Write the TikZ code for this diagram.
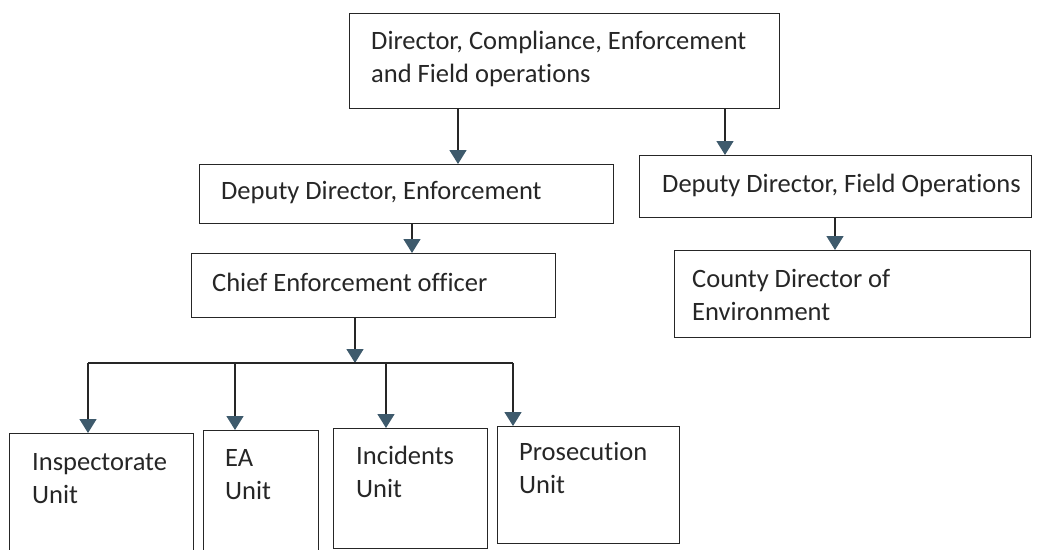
\documentclass[tikz,border=0pt]{standalone}
\usepackage{fontspec}
\setmainfont[Ligatures={NoCommon}]{Carlito}
\usetikzlibrary{arrows.meta}
\definecolor{tipc}{HTML}{3E5A6C}
\definecolor{linec}{HTML}{262626}
\newcommand{\orgbox}[5]{\node[box,anchor=north west,minimum width={(#4)-(#2)},minimum height={(#5)-(#3)}] (#1) at (#2,#3) {};}
\begin{document}
\begin{tikzpicture}[x=1pt,y=-1pt,
  box/.style={draw=linec,line width=1.4pt,rectangle,inner sep=0pt},
  lbl/.style={anchor=base west,inner sep=0pt,align=left,font=\fontsize{26.5}{33}\selectfont,text=black!85},
  wire/.style={draw=linec,line width=1.5pt},
  conn/.style={draw=linec,line width=1.5pt,-{Triangle[width=17pt,length=14pt,color=tipc,fill=tipc]}}]
\useasboundingbox (0,0) rectangle (1039,549);
\clip (0,0) rectangle (1039,549);
% boxes
\orgbox{dir}{349}{13}{779}{108}
\orgbox{depenf}{199}{164}{613}{223}
\orgbox{depfield}{639}{155}{1031}{217}
\orgbox{chief}{191}{253}{555}{317}
\orgbox{county}{674}{250}{1030}{337}
\orgbox{insp}{9}{433}{193}{570}
\orgbox{ea}{203}{430}{318}{570}
\orgbox{inc}{333}{428}{487}{548}
\orgbox{pros}{497}{426}{679}{543}
% labels (multi-line labels are placed by the baseline of their last line)
\node[lbl] (tdir) at (371,82) {Director, Compliance, Enforcement\\and Field operations};
\node[lbl] (tdepenf) at (221,199) {Deputy Director, Enforcement};
\node[lbl] (tdepfield) at (662,192) {Deputy Director, Field Operations};
\node[lbl] (tchief) at (212,291) {Chief Enforcement officer};
\node[lbl] (tcounty) at (692,320) {County Director of\\Environment};
\node[lbl] (tinsp) at (32,503) {Inspectorate\\Unit};
\node[lbl] (tea) at (225,499) {EA\\Unit};
\node[lbl] (tinc) at (356,497) {Incidents\\Unit};
\node[lbl] (tpros) at (519,493) {Prosecution\\Unit};
% connectors
\coordinate (a1) at (458,0);
\coordinate (a2) at (725,0);
\coordinate (a3) at (412,0);
\coordinate (a4) at (835,0);
\draw[conn] (dir.south -| a1) -- (depenf.north -| a1);
\draw[conn] (dir.south -| a2) -- (depfield.north -| a2);
\draw[conn] (depenf.south -| a3) -- (chief.north -| a3);
\draw[conn] (depfield.south -| a4) -- (county.north -| a4);
\coordinate (j) at (355,363);
\coordinate (j1) at (88,363);
\coordinate (j2) at (235,363);
\coordinate (j3) at (386,363);
\coordinate (j4) at (513,363);
\draw[conn] (chief.south -| j) -- (j);
\draw[wire] (j1) -- (j4);
\draw[conn] (j1) -- (insp.north -| j1);
\draw[conn] (j2) -- (ea.north -| j2);
\draw[conn] (j3) -- (inc.north -| j3);
\draw[conn] (j4) -- (pros.north -| j4);
\end{tikzpicture}
\end{document}
